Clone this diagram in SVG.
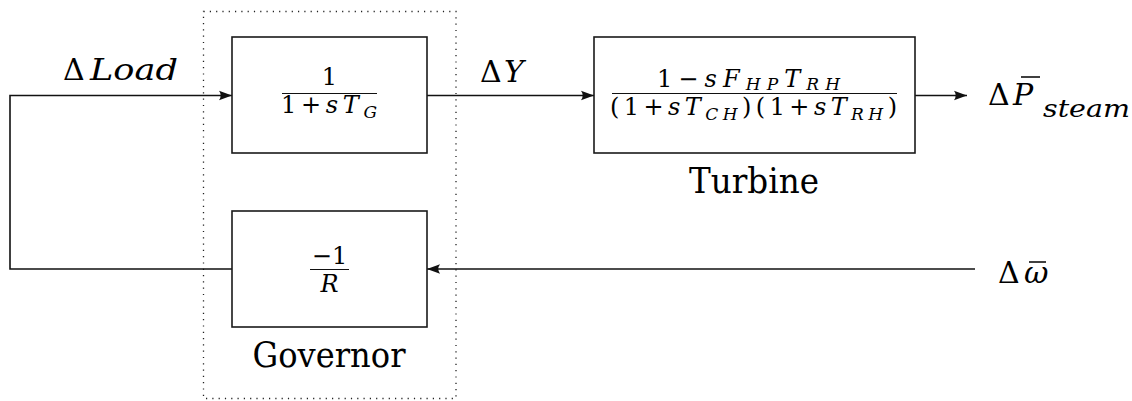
<svg xmlns="http://www.w3.org/2000/svg" width="1132" height="401" viewBox="0 0 1132 401">
  <style>
    .tx { font-family: "DejaVu Serif", "Liberation Serif", "Noto Serif", "Times New Roman", serif; fill: #000; }
    .it { font-style: italic; }
    .blk { fill: #fff; stroke: #1a1a1a; stroke-width: 1.6; }
    .wire { fill: none; stroke: #111; stroke-width: 1.6; }
    .bar { stroke: #111; stroke-width: 1.2; }
    .accent { stroke: #000; stroke-width: 1.5; }
    .frame { fill: none; stroke: #222; stroke-width: 1.3; stroke-dasharray: 1.2 5.1; }
  </style>
  <defs>
    <marker id="tip" markerUnits="userSpaceOnUse" markerWidth="16" markerHeight="12" refX="14" refY="6" orient="auto" overflow="visible">
      <path d="M14,6 L1,1.3 Q4.5,6 1,10.7 Z" fill="#111"/>
    </marker>
  </defs>

  <!-- governor boundary -->
  <rect class="frame" x="203.5" y="11.5" width="252.5" height="387"/>

  <!-- signal wires -->
  <g id="connectors">
    <path class="wire" d="M232,269 H10 V95.5 H232" marker-end="url(#tip)"/>
    <path class="wire" d="M427,95.5 H594" marker-end="url(#tip)"/>
    <path class="wire" d="M915,95.5 H967" marker-end="url(#tip)"/>
    <path class="wire" d="M975,269 H427" marker-end="url(#tip)"/>
  </g>

  <!-- servo block 1/(1+sT_G) -->
  <g id="servo">
    <rect class="blk" x="232" y="37" width="195" height="116"/>
    <text class="tx" x="329.5" y="85" font-size="24" text-anchor="middle">1</text>
    <line class="bar" x1="282" y1="93.5" x2="377" y2="93.5"/>
    <text class="tx" x="281" y="113" font-size="24" textLength="96" lengthAdjust="spacing">1+<tspan class="it">sT</tspan><tspan dy="5" font-size="17" class="it">G</tspan></text>
  </g>

  <!-- droop block -1/R -->
  <g id="droop">
    <rect class="blk" x="232" y="211" width="195" height="116"/>
    <text class="tx" x="329.5" y="264" font-size="24" text-anchor="middle">−1</text>
    <line class="bar" x1="310" y1="269.5" x2="349" y2="269.5"/>
    <text class="tx it" x="329.5" y="292" font-size="24" text-anchor="middle">R</text>
  </g>

  <!-- turbine block -->
  <g id="turbine">
    <rect class="blk" x="594" y="37" width="321" height="116"/>
    <text class="tx" x="657" y="87" font-size="24" textLength="183" lengthAdjust="spacing">1−<tspan class="it">sF</tspan><tspan dy="3" font-size="17" class="it">HP</tspan><tspan dy="-3" class="it">T</tspan><tspan dy="3" font-size="17" class="it">RH</tspan></text>
    <line class="bar" x1="612" y1="93.5" x2="897" y2="93.5"/>
    <text class="tx" x="610" y="115" font-size="24" textLength="287" lengthAdjust="spacing">(1+<tspan class="it">sT</tspan><tspan dy="5" font-size="17" class="it">CH</tspan><tspan dy="-5">)(1+</tspan><tspan class="it">sT</tspan><tspan dy="5" font-size="17" class="it">RH</tspan><tspan dy="-5">)</tspan></text>
    <text class="tx" x="754" y="193" font-size="36" text-anchor="middle" textLength="130" lengthAdjust="spacingAndGlyphs">Turbine</text>
  </g>

  <!-- governor caption -->
  <g id="governor-label">
    <text class="tx" x="329" y="367" font-size="36" text-anchor="middle" textLength="153" lengthAdjust="spacingAndGlyphs">Governor</text>
  </g>

  <!-- signal labels -->
  <g id="labels">
    <text class="tx" y="80" font-size="30"><tspan x="63">Δ</tspan><tspan x="90" class="it" textLength="88" lengthAdjust="spacingAndGlyphs">Load</tspan></text>
    <text class="tx" y="82" font-size="30"><tspan x="480">Δ</tspan><tspan x="504" class="it">Y</tspan></text>
    <text class="tx" y="105" font-size="30"><tspan x="988">Δ</tspan><tspan x="1013" class="it">P</tspan><tspan x="1043" dy="12" font-size="24" class="it" textLength="87" lengthAdjust="spacingAndGlyphs">steam</tspan></text>
    <line class="accent" x1="1021" y1="77" x2="1040" y2="77"/>
    <text class="tx" y="283" font-size="30"><tspan x="998">Δ</tspan><tspan x="1024" class="it">ω</tspan></text>
    <line class="accent" x1="1029" y1="262" x2="1046" y2="262"/>
  </g>
</svg>
